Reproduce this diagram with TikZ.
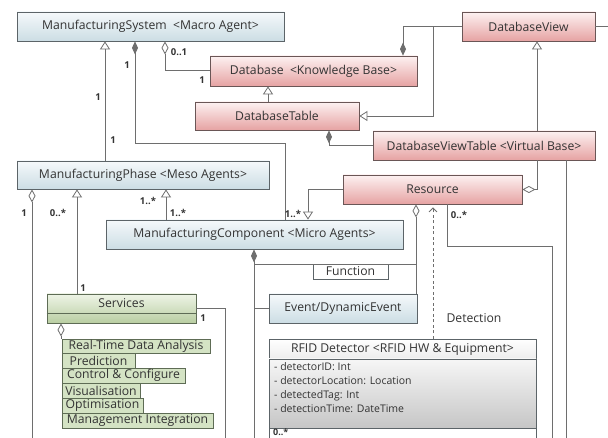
\documentclass[tikz,border=0pt]{standalone}
\usepackage{fontspec}
\setmainfont{Open Sans}
\usetikzlibrary{arrows.meta}
\definecolor{txt}{HTML}{333333}
\definecolor{ln}{HTML}{6E6E6E}
\definecolor{bdr}{HTML}{5C6468}
\definecolor{bluetop}{HTML}{F5F9FB}
\definecolor{bluebot}{HTML}{CCDDE4}
\definecolor{pinktop}{HTML}{FDF1F1}
\definecolor{pinkbot}{HTML}{E6A3A3}
\definecolor{pinkbdr}{HTML}{6A5656}
\definecolor{greentop}{HTML}{EEF4E6}
\definecolor{greenbot}{HTML}{B9CEA2}
\definecolor{greenbdr}{HTML}{5E6C55}
\definecolor{itemfill}{HTML}{D4E3C4}
\definecolor{graytop}{HTML}{F6F6F6}
\definecolor{graybot}{HTML}{C6C6C6}
\begin{document}
\begin{tikzpicture}[x=1pt,y=-1pt,
  box/.style={draw=bdr, line width=0.8pt, inner sep=0pt, text=txt, font=\fontsize{12.2}{14}\selectfont},
  bluebox/.style={box, top color=bluetop, bottom color=bluebot},
  pinkbox/.style={box, draw=pinkbdr, top color=pinktop, bottom color=pinkbot},
  greenbox/.style={box, draw=greenbdr, top color=greentop, bottom color=greenbot},
  itembox/.style={box, draw=greenbdr, fill=itemfill, line width=0.7pt},
  graybox/.style={box, draw=bdr, top color=graytop, bottom color=graybot},
  conn/.style={draw=ln, line width=0.8pt},
  inh/.style={conn, -{Triangle[open, length=8pt, width=10pt, fill=white]}},
  comp/.style={conn, {Diamond[length=13pt, width=6pt, fill=ln]}-},
  agg/.style={conn, {Diamond[open, length=13pt, width=7pt, fill=white]}-},
  lbl/.style={inner sep=0pt, text=txt, font=\fontsize{9.5}{11}\selectfont\bfseries},
]
\useasboundingbox (0,0) rectangle (608,438);
\fill[white] (0,0) rectangle (608,438);

% ---------- nodes ----------
\node[bluebox, minimum width=267pt, minimum height=29pt] (ms) at (150.5,26.5) {ManufacturingSystem\ \ {<}Macro Agent{>}};
\node[pinkbox, minimum width=207pt, minimum height=30pt] (db) at (313.5,71) {Database\ \ {<}Knowledge Base{>}};
\node[pinkbox, minimum width=164pt, minimum height=28pt] (dbt) at (277,116) {DatabaseTable};
\node[pinkbox, minimum width=133pt, minimum height=29pt] (dbv) at (528.5,26.5) {DatabaseView};
\node[pinkbox, minimum width=222pt, minimum height=29pt] (dbvt) at (484,145.5) {DatabaseViewTable {<}Virtual Base{>}};
\node[pinkbox, minimum width=179pt, minimum height=29pt] (res) at (432.5,189.5) {Resource};
\node[bluebox, minimum width=252pt, minimum height=28pt] (mp) at (143,175) {ManufacturingPhase {<}Meso Agents{>}};
\node[bluebox, minimum width=297pt, minimum height=29pt] (mc) at (254.5,234.5) {ManufacturingComponent {<}Micro Agents{>}};
\node[greenbox, minimum width=149pt, minimum height=29pt] (svc) at (121.5,308.5) {};
\node[inner sep=0pt, text=txt, font=\fontsize{12.2}{14}\selectfont] (svct) at (121.5,303.5) {Services};
\draw[greenbdr, line width=0.8pt] (svc.west |- 0,313) -- (svc.east |- 0,313);
\node[box, fill=white, minimum width=75pt, minimum height=15pt] (fn) at (350.5,271.5) {Function};
\node[bluebox, minimum width=148pt, minimum height=29pt] (ev) at (343,308.5) {Event/DynamicEvent};

% RFID detector
\node[box, top color=white, bottom color=graytop!80!graybot, minimum width=267pt, minimum height=20pt] (rfidh) at (402.5,349) {RFID Detector {<}RFID HW \& Equipment{>}};
\node[graybox, minimum width=267pt, minimum height=69pt] (rfida) at (402.5,393.5) {};
\node[box, fill=white, minimum width=267pt, minimum height=20pt] (rfidb) at (402.5,438) {};
\node[inner sep=0pt, text=txt, anchor=north west, align=left, font=\fontsize{10.5}{14}\selectfont] (attrs) at (274,362)
  {- detectorID: Int\\- detectorLocation: Location\\- detectedTag: Int\\- detectionTime: DateTime};
\node[lbl, anchor=west, font=\fontsize{9}{10}\selectfont\bfseries] (rfm) at (273,432.5) {0..*};

% service items
\node[itembox, minimum width=148pt, minimum height=14pt] (it1) at (136,346) {Real-Time Data Analysis};
\node[itembox, minimum width=73pt, minimum height=15pt] (it2) at (98.5,360.5) {Prediction};
\node[itembox, minimum width=123pt, minimum height=15pt] (it3) at (123.5,375.5) {Control \& Configure};
\node[itembox, minimum width=78pt, minimum height=15pt] (it4) at (101,390.5) {Visualisation};
\node[itembox, minimum width=81pt, minimum height=15pt] (it5) at (102.5,405.5) {Optimisation};
\node[itembox, minimum width=151pt, minimum height=15pt] (it6) at (137.5,420.5) {Management Integration};

% ---------- connectors ----------
\draw[inh] (mp.north -| 105,0) -- (ms.south -| 105,0);
\draw[comp] (ms.south -| 135,0) |- (285,143) -- (mc.north -| 285,0);
\draw[agg] (ms.south -| 165,0) |- (db.west |- 0,70);
\draw[inh] (dbt.north -| 268,0) -- (db.south -| 268,0);
\draw[comp] (db.north -| 403,0) |- (dbv.west);
\draw[inh] (dbv.west) -- (433,26.5) |- (dbt.east);
\draw[inh] (dbvt.north -| 537,0) -- (dbv.south -| 537,0);
\draw[comp] (dbt.south -| 329,0) |- (dbvt.west);
\coordinate (rightend) at (608,26.5);
\draw[conn] (dbv.east) -- (rightend);
\draw[agg] (res.east) -| (dbvt.south -| 537,0);
\draw[inh] (res.west) -| (mc.north -| 308,0);
\draw[agg] (res.south -| 416,0) -- (ev.north -| 416,0);
\coordinate (mcend) at (254,445);
\draw[comp] (mc.south -| 254,0) -- (mcend);
\draw[conn] (254,264) -- (416,264);
\draw[conn] (254,308.5) -- (ev.west);
\draw[conn, dash pattern=on 3pt off 2.5pt, shorten >=3pt, -{Straight Barb[length=4pt, width=8pt]}] (rfidh.north -| 433,0) -- (res.south -| 433,0);
\coordinate (resend) at (552,445);
\draw[conn] (res.south -| 447,0) |- (552,246) -- (resend);
\coordinate (dbvtend) at (566,445);
\draw[conn] (dbvt.south -| 566,0) -- (dbvtend);
\coordinate (mpend) at (32,445);
\draw[agg] (mp.south -| 32,0) -- (mpend);
\draw[inh] (svc.north -| 77,0) -- (mp.south -| 77,0);
\draw[inh] (mc.north -| 166,0) -- (mp.south -| 166,0);
\coordinate (svcend) at (225,445);
\draw[conn] (svc.east |- 0,308) -| (svcend);
\draw[agg] (svc.south -| 61,0) -- (it1.north -| 61,0);

% ---------- labels ----------
\node[lbl] (m1) at (98,97) {1};
\node[lbl] (m2) at (113,140) {1};
\node[lbl] (m3) at (127,65) {1};
\node[lbl] (m4) at (179,52) {0..1};
\node[lbl] (m5) at (202,80) {1};
\node[lbl] (m6) at (293,214) {1..*};
\node[lbl] (m7) at (459,215) {0..*};
\node[lbl] (m8) at (24,213) {1};
\node[lbl] (m9) at (58,213) {0..*};
\node[lbl] (m10) at (83,288) {1};
\node[lbl] (m11) at (148,201) {1..*};
\node[lbl] (m12) at (178,213) {1..*};
\node[lbl] (m13) at (203,318) {1};
\node[inner sep=0pt, text=txt, font=\fontsize{12.2}{14}\selectfont] (det) at (474,318) {Detection};
\end{tikzpicture}
\end{document}
